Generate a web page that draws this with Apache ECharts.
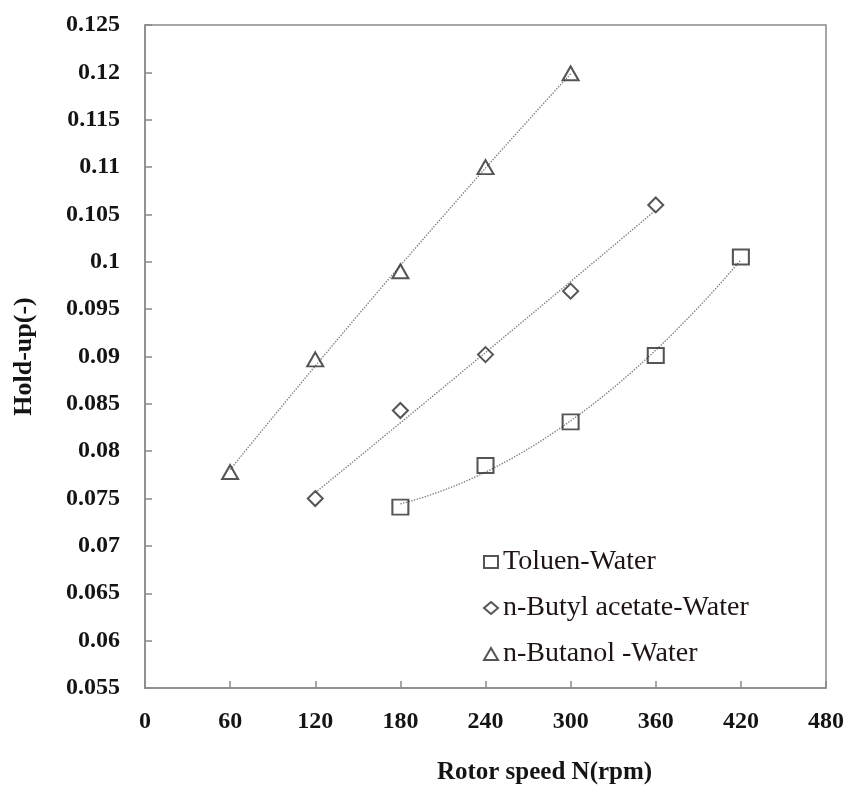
<!DOCTYPE html>
<html>
<head>
<meta charset="utf-8">
<script src="https://cdn.jsdelivr.net/npm/echarts@6/dist/echarts.min.js"></script>
<style>
  html, body { margin: 0; padding: 0; background: #ffffff; }
  #chart { width: 860px; height: 795px; }
</style>
</head>
<body>
<div id="chart"></div>
<script>
// Measured hold-up against rotor speed for three liquid systems
const rotorSpeedToluen = [180, 240, 300, 360, 420];
const holdupToluen = [0.0741, 0.0785, 0.0831, 0.0901, 0.1005];

const rotorSpeedButylAcetate = [120, 180, 240, 300, 360];
const holdupButylAcetate = [0.0750, 0.0843, 0.0902, 0.0969, 0.1060];

const rotorSpeedButanol = [60, 120, 180, 240, 300];
const holdupButanol = [0.0778, 0.0897, 0.0990, 0.1100, 0.1199];

const seriesNames = ['Toluen-Water', 'n-Butyl acetate-Water', 'n-Butanol -Water'];

// Axis ticks
const xTickValues = [0, 60, 120, 180, 240, 300, 360, 420, 480];
const yTickValues = [0.055, 0.06, 0.065, 0.07, 0.075, 0.08, 0.085, 0.09, 0.095, 0.1, 0.105, 0.11, 0.115, 0.12, 0.125];

// Second-order polynomial trend line (least squares) through a data set
function quadraticTrend(xs, ys, steps) {
  const S = [0, 0, 0, 0, 0];
  const T = [0, 0, 0];
  xs.forEach((x, i) => {
    let p = 1;
    for (let k = 0; k < 5; k++) {
      S[k] += p;
      if (k < 3) T[k] += p * ys[i];
      p *= x;
    }
  });
  const M = [
    [S[0], S[1], S[2], T[0]],
    [S[1], S[2], S[3], T[1]],
    [S[2], S[3], S[4], T[2]]
  ];
  for (let c = 0; c < 3; c++) {
    let piv = c;
    for (let r = c + 1; r < 3; r++) if (Math.abs(M[r][c]) > Math.abs(M[piv][c])) piv = r;
    [M[c], M[piv]] = [M[piv], M[c]];
    for (let r = 0; r < 3; r++) {
      if (r === c) continue;
      const f = M[r][c] / M[c][c];
      for (let k = c; k < 4; k++) M[r][k] -= f * M[c][k];
    }
  }
  const a = M[0][3] / M[0][0], b = M[1][3] / M[1][1], c2 = M[2][3] / M[2][2];
  const x0 = xs[0], x1 = xs[xs.length - 1];
  const pts = [];
  for (let i = 0; i <= steps; i++) {
    const x = x0 + (x1 - x0) * i / steps;
    pts.push([x, a + b * x + c2 * x * x]);
  }
  return pts;
}

const pairs = (xs, ys) => xs.map((x, i) => [x, ys[i]]);

const serif = 'Liberation Serif';
const markerColor = '#2b2b2b';
const axisColor = '#8a8a8a';
const textColor = '#141414';

const markerStyle = {
  color: 'rgba(255,255,255,0)',
  borderColor: markerColor,
  borderWidth: 2
};

const trendStyle = {
  type: 'dotted',
  color: '#808080',
  width: 1.4
};

function trendSeries(xs, ys) {
  return {
    type: 'line',
    data: quadraticTrend(xs, ys, 60),
    showSymbol: false,
    symbol: 'none',
    silent: true,
    z: 1,
    lineStyle: trendStyle
  };
}

const chart = echarts.init(document.getElementById('chart'), null, { renderer: 'canvas' });

chart.setOption({
  animation: false,
  backgroundColor: '#ffffff',
  grid: { left: 145, right: 34, top: 25, bottom: 107, containLabel: false },
  legend: {
    data: seriesNames,
    orient: 'vertical',
    left: 478,
    top: 543,
    itemGap: 18,
    itemWidth: 14,
    itemHeight: 12,
    textStyle: { fontFamily: serif, fontSize: 28, color: '#1e1414' }
  },
  xAxis: {
    type: 'value',
    min: xTickValues[0],
    max: xTickValues[xTickValues.length - 1],
    interval: xTickValues[1] - xTickValues[0],
    name: 'Rotor speed N(rpm)',
    nameLocation: 'middle',
    nameGap: 72,
    nameTextStyle: { fontFamily: serif, fontWeight: 'bold', fontSize: 25, color: textColor, padding: [0, 0, 0, 118] },
    axisLine: { show: true, lineStyle: { color: axisColor, width: 1.5 } },
    axisTick: { show: true, inside: true, length: 7, lineStyle: { color: axisColor, width: 1.5 } },
    axisLabel: { margin: 22, fontFamily: serif, fontWeight: 'bold', fontSize: 24, color: textColor },
    splitLine: { show: false }
  },
  yAxis: {
    type: 'value',
    min: yTickValues[0],
    max: yTickValues[yTickValues.length - 1],
    interval: 0.005,
    name: 'Hold-up(-)',
    nameLocation: 'middle',
    nameGap: 108,
    nameRotate: 90,
    nameTextStyle: { fontFamily: serif, fontWeight: 'bold', fontSize: 26, color: textColor },
    axisLine: { show: true, lineStyle: { color: axisColor, width: 1.5 } },
    axisTick: { show: true, inside: true, length: 7, lineStyle: { color: axisColor, width: 1.5 } },
    axisLabel: {
      margin: 25,
      fontFamily: serif,
      fontWeight: 'bold',
      fontSize: 24,
      color: textColor,
      formatter: v => String(+v.toFixed(3))
    },
    splitLine: { show: false }
  },
  graphic: [{
    type: 'rect',
    silent: true,
    z: 0,
    shape: { x: 145, y: 25, width: 681, height: 663 },
    style: { fill: 'none', stroke: axisColor, lineWidth: 1.5 }
  }],
  series: [
    trendSeries(rotorSpeedToluen, holdupToluen),
    trendSeries(rotorSpeedButylAcetate, holdupButylAcetate),
    trendSeries(rotorSpeedButanol, holdupButanol),
    {
      name: seriesNames[0],
      type: 'scatter',
      symbol: 'rect',
      symbolSize: [16, 15],
      z: 3,
      itemStyle: markerStyle,
      data: pairs(rotorSpeedToluen, holdupToluen)
    },
    {
      name: seriesNames[1],
      type: 'scatter',
      symbol: 'diamond',
      symbolSize: [15, 15],
      z: 3,
      itemStyle: markerStyle,
      data: pairs(rotorSpeedButylAcetate, holdupButylAcetate)
    },
    {
      name: seriesNames[2],
      type: 'scatter',
      symbol: 'triangle',
      symbolSize: [16, 14],
      z: 3,
      itemStyle: markerStyle,
      data: pairs(rotorSpeedButanol, holdupButanol)
    }
  ]
});
</script>
</body>
</html>
